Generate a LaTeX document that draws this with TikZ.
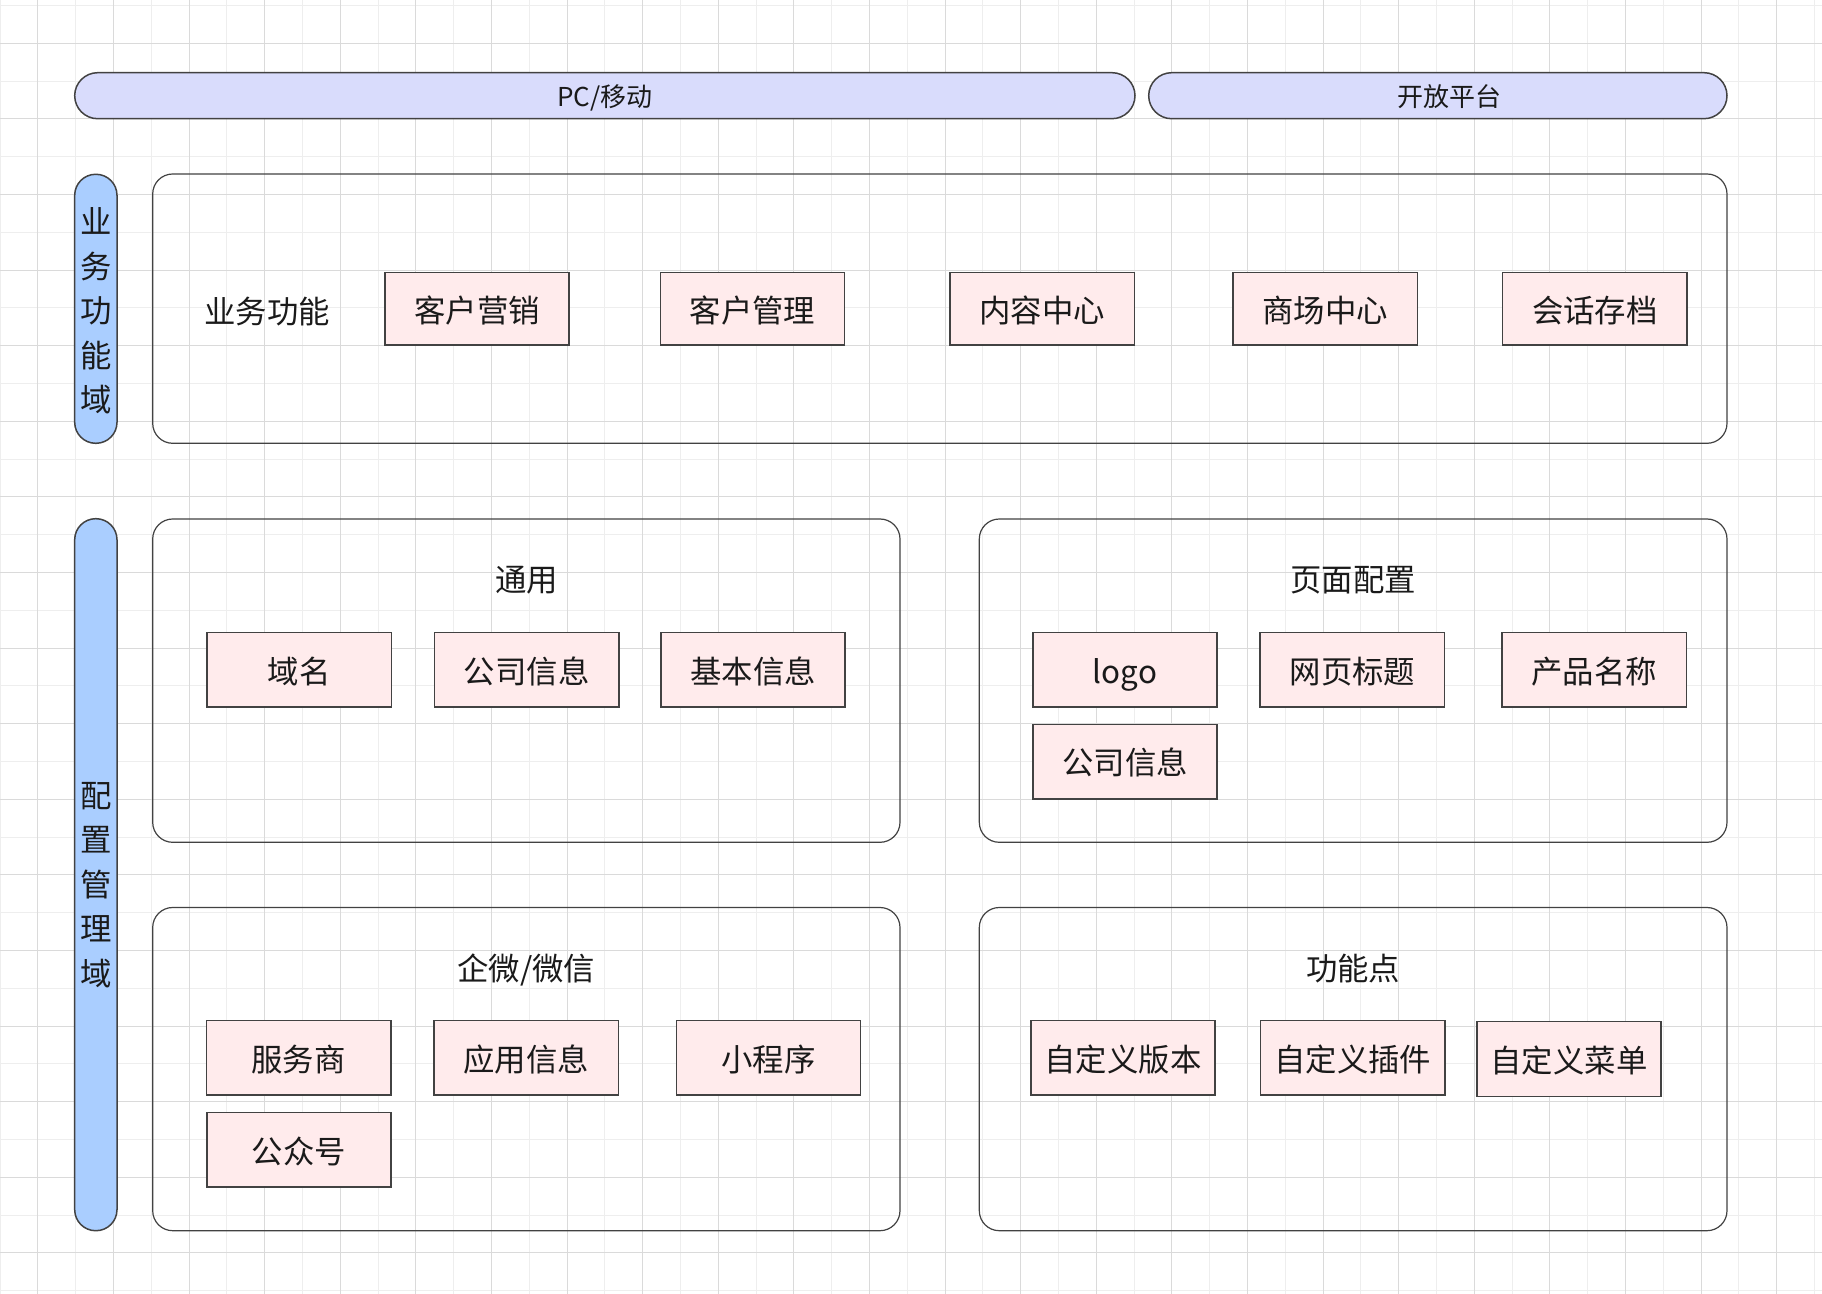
\documentclass[tikz,border=0pt]{standalone}
\usepackage{fontspec}
\setmainfont{Noto Sans CJK SC}

\definecolor{barfill}{RGB}{217,220,252}
\definecolor{pillfill}{RGB}{170,206,255}
\definecolor{itemfill}{RGB}{255,235,236}
\definecolor{edgegray}{RGB}{66,66,66}
\definecolor{textdark}{RGB}{26,26,26}
\definecolor{gridlight}{RGB}{238,238,238}
\definecolor{griddark}{RGB}{218,218,218}

\newcommand\gridstep{37.8}
\newcommand\boxtextstyle{\fontsize{15.7pt}{18pt}\selectfont}
\newcommand\bartextstyle{\fontsize{13pt}{15pt}\selectfont}
\newcommand\sidetextstyle{\fontsize{15.7pt}{22.3pt}\selectfont}

\tikzset{
  gridfine/.style={draw=gridlight, line width=0.6pt},
  gridbold/.style={draw=griddark, line width=0.6pt},
  bar/.style={draw=edgegray, line width=0.75pt, fill=barfill, rounded corners=11.5pt},
  pill/.style={draw=edgegray, line width=0.75pt, fill=pillfill, rounded corners=10.5pt},
  group/.style={draw=edgegray, line width=0.6pt, rounded corners=10pt},
  item/.style={draw=edgegray, line width=0.75pt, fill=itemfill, minimum width=92.2pt,
    minimum height=37.3pt, inner sep=0pt, text height=15pt, text depth=1.8pt,
    font=\boxtextstyle, text=textdark},
  bizitem/.style={item, minimum height=36.2pt},
  heading/.style={font=\boxtextstyle, text=textdark, inner sep=0pt,
    text height=15pt, text depth=1.8pt},
  barlabel/.style={font=\bartextstyle, text=textdark, inner sep=0pt,
    text height=12pt, text depth=1.9pt},
  sidelabel/.style={font=\sidetextstyle, align=center, text=textdark, inner sep=0pt},
}

\begin{document}
\begin{tikzpicture}[x=0.5pt, y=-0.5pt]
    \useasboundingbox (0,0) rectangle (1822,1294);
    \fill[white] (0,0) rectangle (1822,1294);
    % background grid, snapped to whole pixels
    \foreach \k in {0,2,...,48} {
      \pgfmathsetmacro\gx{floor(\k*\gridstep)+0.5}
      \draw[gridfine] (\gx,0) -- (\gx,1294);
    }
    \foreach \k in {0,2,...,34} {
      \pgfmathsetmacro\gy{floor(5.5+\k*\gridstep)+0.5}
      \draw[gridfine] (0,\gy) -- (1822,\gy);
    }
    \foreach \k in {1,3,...,47} {
      \pgfmathsetmacro\gx{floor(\k*\gridstep)+0.5}
      \draw[gridbold] (\gx,0) -- (\gx,1294);
    }
    \foreach \k in {1,3,...,33} {
      \pgfmathsetmacro\gy{floor(5.5+\k*\gridstep)+0.5}
      \draw[gridbold] (0,\gy) -- (1822,\gy);
    }

    % top bars
    \draw[bar] (74.7,72.7) rectangle (1135,118.7);
    \node[barlabel] (pcbar) at (605,96.5) {PC/移动};
    \draw[bar] (1148.7,72.7) rectangle (1727,118.7);
    \node[barlabel] (openbar) at (1449,96.5) {开放平台};

    % side pills
    \draw[pill] (74.7,174.3) rectangle (117,443.3);
    \node[sidelabel] (bizside) at (95.9,311) {业\\务\\功\\能\\域};
    \draw[pill] (74.7,518.7) rectangle (117,1230.7);
    \node[sidelabel] (cfgside) at (95.9,885) {配\\置\\管\\理\\域};

    % business functions
    \draw[group] (152.7,174) rectangle (1727,443.3);
    \node[heading] (bizname) at (267,310) {业务功能};
    \node[bizitem] (marketing) at (477,308.9) {客户营销};
    \node[bizitem] (customers) at (752.5,308.9) {客户管理};
    \node[bizitem] (content) at (1042.3,308.9) {内容中心};
    \node[bizitem] (mall) at (1325.1,308.9) {商场中心};
    \node[bizitem] (archive) at (1594.9,308.9) {会话存档};

    % general
    \draw[group] (152.7,519) rectangle (900,842.3);
    \node[heading] (general) at (526.4,578.5) {通用};
    \node[item] (domain) at (299.1,669.9) {域名};
    \node[item] (company) at (526.7,669.9) {公司信息};
    \node[item] (basic) at (753,669.9) {基本信息};

    % page settings
    \draw[group] (979.3,519) rectangle (1727,842.3);
    \node[heading] (pageset) at (1353.2,578.5) {页面配置};
    \node[item] (logo) at (1125,669.9) {logo};
    \node[item] (webtitle) at (1352.4,669.9) {网页标题};
    \node[item] (product) at (1594.3,669.9) {产品名称};
    \node[item] (pagecompany) at (1125,761.7) {公司信息};

    % wecom / wechat
    \draw[group] (152.7,907.5) rectangle (900,1230.7);
    \node[heading] (wecom) at (526.4,967) {企微/微信};
    \node[item] (provider) at (298.6,1057.9) {服务商};
    \node[item] (appinfo) at (526.3,1057.9) {应用信息};
    \node[item] (miniapp) at (768.5,1057.9) {小程序};
    \node[item] (official) at (299,1149.9) {公众号};

    % feature points
    \draw[group] (979.3,907.5) rectangle (1727,1230.7);
    \node[heading] (features) at (1353.2,967) {功能点};
    \node[item] (version) at (1123,1057.9) {自定义版本};
    \node[item] (plugin) at (1352.7,1057.9) {自定义插件};
    \node[item] (menu) at (1569,1059) {自定义菜单};
\end{tikzpicture}
\end{document}
